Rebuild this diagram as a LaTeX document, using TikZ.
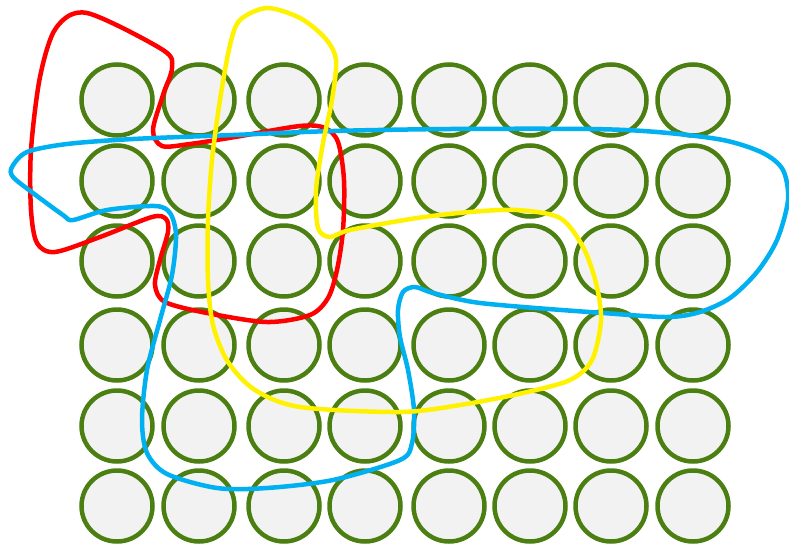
\documentclass[tikz,border=0pt]{standalone}
\usepackage{xcolor}
\definecolor{discgreen}{RGB}{76,127,17}
\definecolor{discgray}{RGB}{242,242,242}
\definecolor{lassoblue}{RGB}{0,176,240}
\usepackage{tikz}
\usetikzlibrary{positioning}
\tikzset{
  disc/.style={circle, draw=discgreen, fill=discgray, line width=4.5pt,
    minimum size=71pt, inner sep=0pt},
  lasso/.style={line width=4.5pt, line join=round},
}

\begin{document}
\begin{tikzpicture}[x=1pt, y=-1pt]
  \useasboundingbox (0,0) rectangle (789,546);

  % Grid of discs
  \foreach \y [count=\r] in {100,181,261,345,426,506} {
    \foreach \x [count=\c] in {117,199,284,365,449,530,611,693} {
      \node[disc] (c-\r-\c) at (\x,\y) {};
    }
  }

  % Red lasso
  \draw[lasso, red] plot[smooth cycle, tension=0.5] coordinates {
    (87,13) (163,50) (172,68) (163,95) (153,130) (162,146) (190,144)
    (235,137) (300,126) (325,128) (338,142) (344,180) (343,230)
    (337,270) (328,298) (310,315) (267,322) (207,313) (165,302)
    (155,285) (160,260) (168,232) (166,219) (152,217) (100,237)
    (55,252) (37,243) (31,210) (31,150) (40,77) (56,28)
  };

  % Blue lasso
  \draw[lasso, lassoblue] plot[smooth cycle, tension=0.5] coordinates {
    (12,167) (27,152) (67,144) (133,139) (233,135) (333,131) (450,129)
    (590,129) (657,132) (723,140) (763,153) (783,170) (788,200)
    (777,240) (757,272) (730,298) (700,312) (667,317) (603,313)
    (523,307) (473,302) (433,293) (415,287) (403,292) (398,310)
    (400,337) (408,370) (414,410) (412,443) (400,460) (333,480)
    (267,488) (217,488) (167,474) (147,453) (142,420) (147,370)
    (160,320) (172,275) (176,235) (170,213) (155,206) (107,210)
    (73,220) (63,215) (33,193) (13,177)
  };

  % Yellow lasso
  \draw[lasso, yellow] plot[smooth cycle, tension=0.5] coordinates {
    (267,8) (240,20) (230,45) (220,100) (212,160) (208,220) (208,280)
    (213,325) (228,362) (255,390) (300,407) (400,412) (460,405)
    (523,393) (570,380) (592,360) (601,320) (596,283) (583,247)
    (560,218) (517,210) (470,212) (417,218) (350,230) (330,237)
    (318,228) (316,190) (323,143) (332,100) (336,60) (325,38) (300,18)
  };
\end{tikzpicture}
\end{document}
